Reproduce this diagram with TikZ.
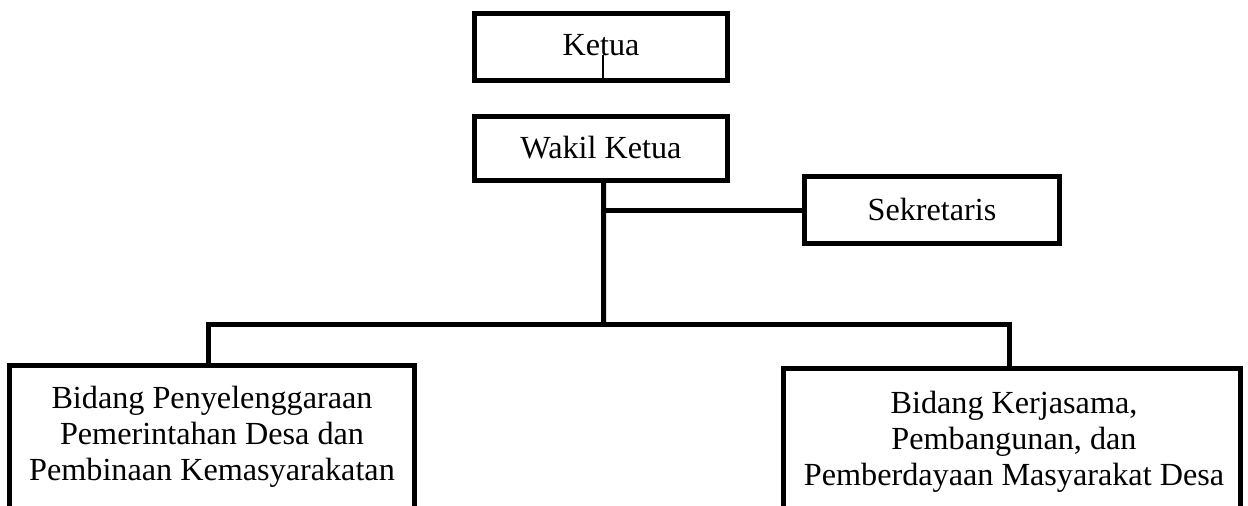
\documentclass[tikz,border=0pt]{standalone}
\usepackage{fontspec}
\setmainfont{Liberation Serif}
\begin{document}
\begin{tikzpicture}[x=0.5pt,y=-0.5pt,
  box/.style={draw, line width=2.5pt, inner sep=0pt, font=\fontsize{16.1pt}{17.9pt}\selectfont},
  txt/.style={font=\fontsize{16.1pt}{17.9pt}\selectfont, inner sep=0pt, align=center, anchor=base},
  conn/.style={line width=2.5pt, line join=miter},
  thinline/.style={line width=0.6pt}]
\useasboundingbox (0,0) rectangle (1248,505);
\clip (0,0) rectangle (1248,505);
% top boxes
\node[box, minimum width=126.5pt, minimum height=33.5pt, text height=12pt, text depth=4pt] (ketua) at (601,47) {Ketua};
\node[box, minimum width=126.5pt, minimum height=32pt, text height=12pt, text depth=2.5pt] (wakil) at (601,148.5) {Wakil Ketua};
\node[box, minimum width=127.5pt, minimum height=33.5pt, text height=12pt, text depth=2pt] (sek) at (932,210) {Sekretaris};
% bottom boxes (open below the page edge)
\node[box, minimum width=202.5pt, minimum height=150pt] (bidA) at (212,515.5) {};
\node[box, minimum width=228.5pt, minimum height=150pt] (bidB) at (1012,518.5) {};
\node[txt] (tA) at (212,480) {Bidang Penyelenggaraan\\Pemerintahan Desa dan\\Pembinaan Kemasyarakatan};
\node[txt] (tB) at (1014,485) {Bidang Kerjasama,\\Pembangunan, dan\\Pemberdayaan Masyarakat Desa};
% connectors
\coordinate (kin) at (603,55);
\draw[thinline] (kin) -- (kin |- ketua.south);
\coordinate (jt) at (603.7,324.5);
\draw[conn] ([xshift=1.35pt]wakil.south) -- (jt);
\draw[conn] (jt |- sek.west) -- (sek.west);
\draw[conn] (bidA.north -| 208,0) |- (jt) -| (bidB.north -| 1009,0);
\end{tikzpicture}
\end{document}
